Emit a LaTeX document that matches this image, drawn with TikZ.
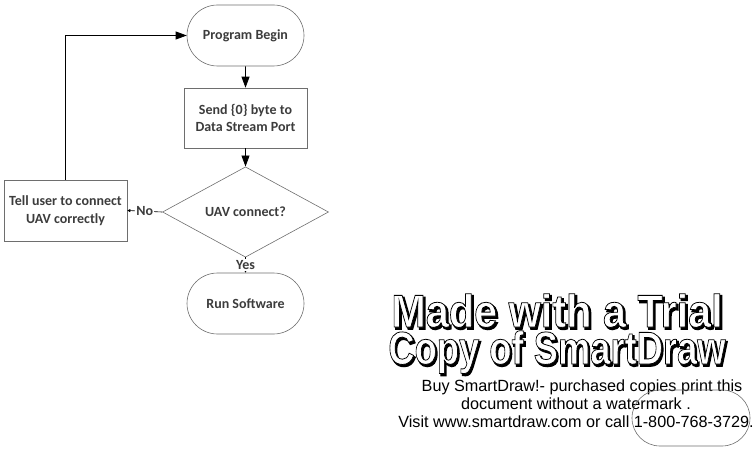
\documentclass[tikz,border=0pt]{standalone}
\usepackage{fontspec}
\setmainfont{Carlito}
\newfontfamily\wmfont{Liberation Sans}
\usetikzlibrary{shapes.misc,shapes.geometric,arrows.meta}
\definecolor{bordergray}{HTML}{6E6E6E}
\definecolor{txtgray}{HTML}{3C3C3C}
\newcommand{\olt}[2]{\special{pdf:literal direct 2 Tr #1 w 0 G}#2\special{pdf:literal direct 0 Tr}}
\newcommand{\shadowtext}[1]{\rlap{\hspace{2pt}\raisebox{-2pt}{\color{black}\olt{1.6}{#1}}}{\color{white}\olt{0.8}{#1}}}
\begin{document}
\begin{tikzpicture}[x=1pt,y=-1pt,
  base/.style={draw=bordergray, line width=0.6pt, font=\fontsize{14}{17.5}\selectfont\bfseries, text=txtgray, align=center, inner sep=2pt},
  term/.style={base, rounded rectangle, minimum width=121pt, minimum height=61pt},
  procbox/.style={base, rectangle, minimum width=123pt, minimum height=60pt},
  decis/.style={base, diamond, minimum width=166pt, minimum height=81pt, inner sep=0pt},
  arr/.style={line width=0.8pt, -{Triangle[length=11pt,width=8pt]}},
  arrsmall/.style={line width=0.6pt, -{Triangle[length=3pt,width=3pt]}},
  lbl/.style={fill=white, font=\fontsize{14}{16}\selectfont\bfseries, text=txtgray, inner sep=1pt},
  wmsmall/.style={font=\wmfont\fontsize{16.2}{18}\selectfont, align=center, inner sep=0pt},
  wmbig/.style={font=\wmfont\bfseries\fontsize{46}{37}\selectfont, align=center, inner sep=0pt}
]
\useasboundingbox (0,0) rectangle (755,452);

\node[term] (begin) at (245.5,35.5) {Program Begin};
\node[procbox] (send) at (245.5,118) {Send \{0\} byte to\\Data Stream Port};
\node[decis] (dec) at (245.5,212) {UAV connect?};
\node[term] (run) at (245.5,303.5) {Run Software};
\node[procbox, minimum height=61pt] (tell) at (65.5,210.5) {Tell user to connect\\UAV correctly};

\draw[arr] (begin) -- (send);
\draw[arr] (send) -- (dec);
\draw[arrsmall] (dec.west) -- node[lbl] {No} (tell.east);
\draw[arrsmall] (dec.south) -- node[lbl] {Yes} (run.north);
\draw[arr] (tell.north) |- (begin.west);

% watermark
\node[wmbig, anchor=base] (wma) at (557,364)
  {\scalebox{0.9}[1]{\shadowtext{Made with a Trial}}\\\scalebox{0.79}[1]{\shadowtext{Copy of SmartDraw}}};
\node[wmsmall, anchor=base] (wmc) at (576,427.5)
  {\hspace*{12pt}Buy SmartDraw!- purchased copies print this\\
   document without a watermark .\hspace*{7pt}\\
   Visit www.smartdraw.com or call 1-800-768-3729.};
\node[draw=bordergray, line width=0.6pt, rounded rectangle, minimum width=118pt, minimum height=56pt, inner sep=0pt] (ghost) at (691,418) {};
\end{tikzpicture}
\end{document}
